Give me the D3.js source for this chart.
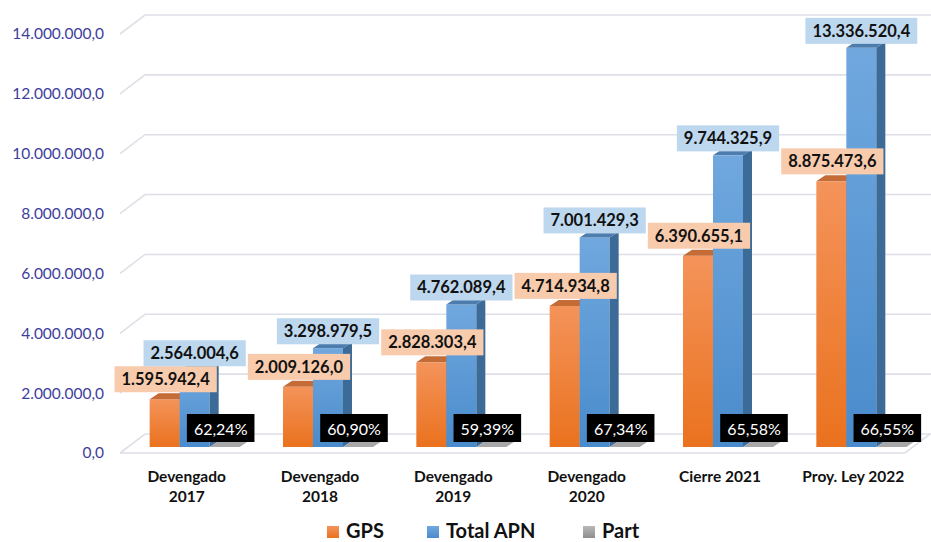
<!DOCTYPE html>
<html>
<head>
<meta charset="utf-8">
<script src="https://cdn.jsdelivr.net/npm/d3@7"></script>
<style>
  body { margin: 0; background: #fff; }
  text { font-family: Lato, "Liberation Sans", sans-serif; }
</style>
</head>
<body>
<div id="drawing_region"></div>
<script>
// data
const categories = ["Devengado\n2017", "Devengado\n2018", "Devengado\n2019", "Devengado\n2020", "Cierre 2021", "Proy. Ley 2022"];
const gps = [1595942.4, 2009126.0, 2828303.4, 4714934.8, 6390655.1, 8875473.6];
const totalApn = [2564004.6, 3298979.5, 4762089.4, 7001429.3, 9744325.9, 13336520.4];
const part = [62.24, 60.90, 59.39, 67.34, 65.58, 66.55];
const yTicks = [0, 2000000, 4000000, 6000000, 8000000, 10000000, 12000000, 14000000];
const seriesNames = ["GPS", "Total APN", "Part"];

const locale = d3.formatLocale({ decimal: ",", thousands: ".", grouping: [3], currency: ["$", ""] });
const fmtVal = locale.format(",.1f");
const fmtPct = locale.format(".2f");

class Chart3D {
    constructor(config) {
        this.config = config;
        this.init();
    }

    init() {
        let self = this;
        const c = self.config;

        self.svg = d3.select(c.parent)
            .append('svg')
            .attr('width', c.width)
            .attr('height', c.height);

        // front plane scales
        self.x = d3.scaleBand()
            .domain(d3.range(categories.length))
            .range([c.left, c.right])
            .paddingInner(0);
        self.y = d3.scaleLinear()
            .domain([0, 14000000])
            .range([c.floorY, c.topY]);

        const defs = self.svg.append('defs');
        const grad = (id, top, bottom) => {
            const g = defs.append('linearGradient').attr('id', id)
                .attr('x1', 0).attr('y1', 0).attr('x2', 0).attr('y2', 1);
            g.append('stop').attr('offset', '0%').attr('stop-color', top);
            g.append('stop').attr('offset', '100%').attr('stop-color', bottom);
        };
        grad('gOrange', '#F4935A', '#EA721E');
        grad('gBlue', '#70A8DE', '#4A8BCC');
        grad('gGray', '#B8B8B8', '#8E8E8E');
    }

    render() {
        let self = this;
        const c = self.config;
        const wd = c.wallDepth;

        // walls and gridlines
        const grid = self.svg.append('g');
        yTicks.forEach(t => {
            const yy = self.y(t);
            grid.append('path')
                .attr('d', `M${c.left},${yy}L${c.left + wd.dx},${yy + wd.dy}L${c.width},${yy + wd.dy}`)
                .attr('fill', 'none')
                .attr('stroke', '#DDE0E7')
                .attr('stroke-width', 1.6);
        });
        // floor front edge
        grid.append('path')
            .attr('d', `M${c.left},${c.floorY}L${c.right - 15},${c.floorY}L${c.right - 15 + wd.dx},${c.floorY + wd.dy}`)
            .attr('fill', 'none')
            .attr('stroke', '#DDE0E7')
            .attr('stroke-width', 1.6);

        // y axis labels
        const axis = d3.axisLeft(self.y)
            .tickValues(yTicks)
            .tickSize(0)
            .tickPadding(16)
            .tickFormat(fmtVal);
        const ga = self.svg.append('g')
            .attr('transform', `translate(${c.left},0)`)
            .call(axis);
        ga.select('.domain').remove();
        ga.selectAll('text')
            .attr('fill', '#3D3D9C')
            .style('font-size', '15.5px')
            .style('font-family', 'Lato, sans-serif');

        const bw = self.x.bandwidth();
        const barW = 30;
        const od = c.barOffset;   // bar position within depth
        const bd = c.barDepth;    // depth of each bar

        const series = [
            { values: gps, front: 'url(#gOrange)', side: '#B35A1F', top: '#C46B36', shift: -45, div: 1 },
            { values: totalApn, front: 'url(#gBlue)', side: '#3D6B98', top: '#4D7DAE', shift: -15, div: 1 },
            { values: part, front: 'url(#gGray)', side: '#7F7F7F', top: '#A8A8A8', shift: 15, div: 100 }
        ];

        const bars = self.svg.append('g');
        categories.forEach((cat, i) => {
            const cx = self.x(i) + bw / 2;
            series.forEach(s => {
                const x0 = cx + s.shift + od.dx;
                const x1 = x0 + barW;
                const yB = self.y(0) + od.dy;
                const yT = self.y(s.values[i] / s.div) + od.dy;
                const g = bars.append('g');
                g.append('rect')
                    .attr('x', x0).attr('y', yT)
                    .attr('width', barW).attr('height', Math.max(0, yB - yT))
                    .attr('fill', s.front);
                g.append('path')
                    .attr('d', `M${x1},${yT}L${x1 + bd.dx},${yT + bd.dy}L${x1 + bd.dx},${yB + bd.dy}L${x1},${yB}Z`)
                    .attr('fill', s.side);
                g.append('path')
                    .attr('d', `M${x0},${yT}L${x0 + bd.dx},${yT + bd.dy}L${x1 + bd.dx},${yT + bd.dy}L${x1},${yT}Z`)
                    .attr('fill', s.top);
            });
        });

        // data labels
        const labels = self.svg.append('g');
        const addLabel = (cx, yBottom, txt, bg, color, weight, h, fs) => {
            const g = labels.append('g');
            const t = g.append('text')
                .attr('x', cx)
                .attr('y', yBottom - h / 2)
                .attr('text-anchor', 'middle')
                .attr('dominant-baseline', 'central')
                .attr('fill', color)
                .style('font-size', fs)
                .style('font-weight', weight)
                .text(txt);
            const w = t.node().getComputedTextLength() + 14;
            g.insert('rect', 'text')
                .attr('x', cx - w / 2).attr('y', yBottom - h)
                .attr('width', w).attr('height', h)
                .attr('fill', bg);
        };
        categories.forEach((cat, i) => {
            const cx = self.x(i) + bw / 2;
            addLabel(cx - 30 + od.dx + 1, self.y(gps[i]) + od.dy - 7, fmtVal(gps[i]), '#F8CBAD', '#111', 'bold', 26, '16.5px');
        });
        categories.forEach((cat, i) => {
            const cx = self.x(i) + bw / 2;
            addLabel(cx + od.dx, self.y(totalApn[i]) + od.dy - 4, fmtVal(totalApn[i]), '#BDD7EE', '#111', 'bold', 26, '16.5px');
        });
        categories.forEach((cat, i) => {
            const cx = self.x(i) + bw / 2;
            addLabel(cx + 34, self.y(0) - 11, fmtPct(part[i]) + '%', '#000', '#fff', 'normal', 28, '16px');
        });

        // category labels
        const xl = self.svg.append('g');
        categories.forEach((cat, i) => {
            const t = xl.append('text')
                .attr('x', self.x(i) + bw / 2)
                .attr('y', 482)
                .attr('text-anchor', 'middle')
                .attr('fill', '#111')
                .style('font-size', '15.5px')
                .style('font-weight', 'bold');
            cat.split('\n').forEach((line, k) => {
                t.append('tspan')
                    .attr('x', self.x(i) + bw / 2)
                    .attr('dy', k === 0 ? 0 : 20)
                    .text(line);
            });
        });

        // legend
        const legendX = [327, 427, 583];
        const legendColors = ['url(#gOrange)', 'url(#gBlue)', 'url(#gGray)'];
        const lg = self.svg.append('g');
        seriesNames.forEach((n, k) => {
            lg.append('rect')
                .attr('x', legendX[k]).attr('y', 526)
                .attr('width', 12).attr('height', 12)
                .attr('fill', legendColors[k]);
            lg.append('text')
                .attr('x', legendX[k] + 19).attr('y', 538)
                .attr('fill', '#111')
                .style('font-size', '20px')
                .style('font-weight', 'bold')
                .text(n);
        });
    }
}

const chart = new Chart3D({
    parent: '#drawing_region',
    width: 931,
    height: 542,
    left: 120,
    right: 920,
    floorY: 453,
    topY: 34,
    wallDepth: { dx: 25, dy: -19 },
    barOffset: { dx: 8, dy: -6 },
    barDepth: { dx: 9, dy: -6 }
});
chart.render();
</script>
</body>
</html>
